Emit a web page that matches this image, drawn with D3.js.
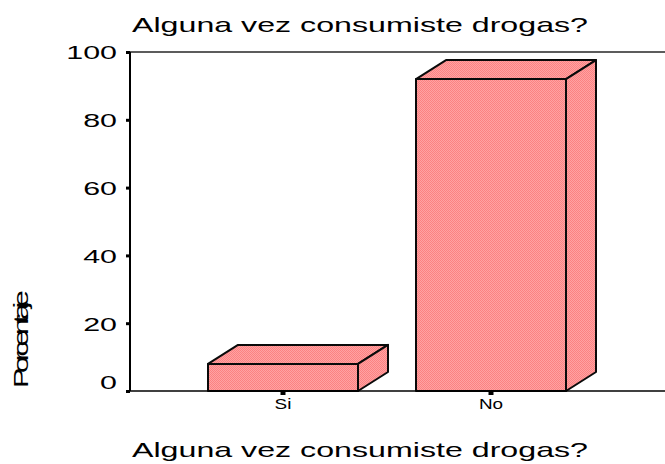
<!DOCTYPE html>
<html>
<head>
<meta charset="utf-8">
<script src="https://cdn.jsdelivr.net/npm/d3@7/dist/d3.min.js"></script>
<style>
body { margin: 0; background: #fff; }
text { font-family: "Liberation Sans", sans-serif; fill: #000; }
</style>
</head>
<body>
<script>
var categories = ["Si", "No"]
var percents = [8, 92]
var yTicks = [0, 20, 40, 60, 80, 100]
var chartTitle = "Alguna vez consumiste drogas?"
var xTitle = "Alguna vez consumiste drogas?"
var yTitle = "Porcentaje"

var width = 665, height = 464
var axisX = 130, axisRight = 665, baseY = 391, topY = 52
var depthX = 30, depthY = 19

var svg = d3.select("body").append("svg")
	.attr("width", width)
	.attr("height", height)
	.style("display", "block")

// fine hatch so the bars look like the dithered pink of the original
var defs = svg.append("defs")
var pat = defs.append("pattern")
	.attr("id", "dither")
	.attr("width", 2).attr("height", 2)
	.attr("patternUnits", "userSpaceOnUse")
pat.append("rect").attr("width", 2).attr("height", 2).attr("fill", "#ffa3a3")
pat.append("rect").attr("width", 1).attr("height", 1).attr("fill", "#fb8282")
pat.append("rect").attr("x", 1).attr("y", 1).attr("width", 1).attr("height", 1).attr("fill", "#fb8282")

var x = d3.scaleBand()
	.domain(categories)
	.range([179, 595])
	.paddingInner(58 / 208)
	.paddingOuter(29 / 208)

var y = d3.scaleLinear()
	.domain([0, 100])
	.range([baseY, topY])

// top frame line
svg.append("line")
	.attr("x1", axisX).attr("x2", axisRight)
	.attr("y1", y(100)).attr("y2", y(100))
	.attr("stroke", "#5c5c5c").attr("stroke-width", 2)

// bars
var bars = svg.append("g").selectAll("g")
	.data(categories)
	.enter().append("g")

function barPath(fn) {
	return function(d, i) {
		var l = x(d), r = l + x.bandwidth(), t = y(percents[i]), b = y(0)
		return d3.line()(fn(l, r, t, b)) + "Z"
	}
}

bars.append("path") // front
	.attr("d", barPath(function(l, r, t, b) { return [[l, b], [l, t], [r, t], [r, b]] }))
bars.append("path") // top
	.attr("d", barPath(function(l, r, t, b) { return [[l, t], [l + depthX, t - depthY], [r + depthX, t - depthY], [r, t]] }))
bars.append("path") // side
	.attr("d", barPath(function(l, r, t, b) { return [[r, t], [r + depthX, t - depthY], [r + depthX, b - depthY], [r, b]] }))
bars.selectAll("path")
	.attr("fill", "url(#dither)")
	.attr("stroke", "#0a0a0a")
	.attr("stroke-width", 2)
	.attr("stroke-linejoin", "round")

// axes
var yAxis = svg.append("g")
	.attr("transform", "translate(" + axisX + ",0)")
	.call(d3.axisLeft(y).tickValues(yTicks).tickSize(4))
var xAxis = svg.append("g")
	.attr("transform", "translate(0," + baseY + ")")
	.call(d3.axisBottom(x).tickSize(4))

yAxis.select(".domain").attr("d", "M0," + topY + "V" + baseY).attr("stroke", "#000").attr("stroke-width", 2)
yAxis.selectAll(".tick line").attr("stroke", "#000").attr("stroke-width", 3)
// digits are stretched wide in the original, and the 0 sits above its tick
yAxis.selectAll("text")
	.style("font-size", "19px")
	.attr("transform", "scale(1.6,1)")
	.attr("x", -13 / 1.6)
	.attr("y", function(d) { return d === 0 ? -9 : 0 })
	.attr("dy", "0.36em")

xAxis.select(".domain").attr("d", "M" + axisX + ",0H" + axisRight).attr("stroke", "#000").attr("stroke-width", 1.5)
xAxis.selectAll(".tick line").attr("stroke", "#000").attr("stroke-width", 5)
xAxis.selectAll("text")
	.style("font-size", "14px")
	.attr("text-anchor", "middle")
	.attr("dy", null)
	.attr("y", 18)
	.attr("transform", "scale(1.35,1)")

// titles
svg.append("text")
	.attr("x", 132).attr("y", 32)
	.style("font-size", "21px")
	.attr("textLength", 456)
	.attr("lengthAdjust", "spacingAndGlyphs")
	.text(chartTitle)
svg.append("text")
	.attr("x", 132).attr("y", 457)
	.style("font-size", "21px")
	.attr("textLength", 456)
	.attr("lengthAdjust", "spacingAndGlyphs")
	.text(xTitle)
svg.append("text")
	.attr("transform", "translate(27.5,388) rotate(-90) scale(1.45,1)")
	.style("font-size", "21px")
	.attr("textLength", 98 / 1.45)
	.attr("lengthAdjust", "spacing")
	.text(yTitle)
</script>
</body>
</html>
